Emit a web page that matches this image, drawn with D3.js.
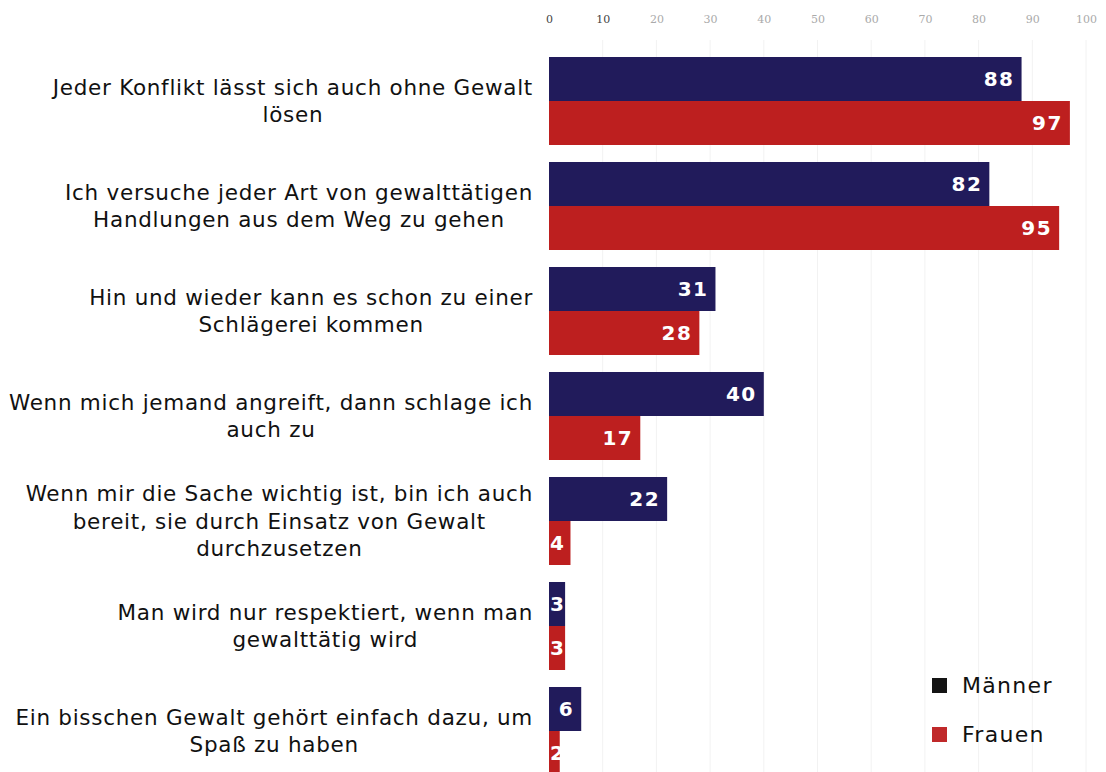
<!DOCTYPE html>
<html>
<head>
<meta charset="utf-8">
<script src="https://cdn.jsdelivr.net/npm/d3@7"></script>
<style>
  html, body { margin: 0; padding: 0; background: #fff; }
  svg { display: block; }
</style>
</head>
<body>
<svg id="chart" width="1106" height="772"></svg>
<script>
// Statements (each entry is the list of wrapped lines)
const categories = [
  ["Jeder Konflikt lässt sich auch ohne Gewalt", "lösen"],
  ["Ich versuche jeder Art von gewalttätigen", "Handlungen aus dem Weg zu gehen"],
  ["Hin und wieder kann es schon zu einer", "Schlägerei kommen"],
  ["Wenn mich jemand angreift, dann schlage ich", "auch zu"],
  ["Wenn mir die Sache wichtig ist, bin ich auch", "bereit, sie durch Einsatz von Gewalt", "durchzusetzen"],
  ["Man wird nur respektiert, wenn man", "gewalttätig wird"],
  ["Ein bisschen Gewalt gehört einfach dazu, um", "Spaß zu haben"]
];
const seriesNames = ["Männer", "Frauen"];
const maenner = [88, 82, 31, 40, 22, 3, 6];
const frauen  = [97, 95, 28, 17, 4, 3, 2];
const tickValues = [0, 10, 20, 30, 40, 50, 60, 70, 80, 90, 100];

const barColors = ["#211b5b", "#bd1f1f"];
const legendColors = ["#141414", "#c0292a"];

const svg = d3.select("#chart");

const x = d3.scaleLinear().domain([0, 100]).range([549, 1086]);

// 105px per statement, 88px of bars and a 17px gap
const step = 105, gap = 17;
const y = d3.scaleBand()
  .domain(d3.range(categories.length))
  .range([57, 57 + step * categories.length - gap])
  .paddingInner(gap / step)
  .paddingOuter(0);
const ySub = d3.scaleBand().domain([0, 1]).range([0, y.bandwidth()]);

// faint vertical gridlines
svg.append("g")
  .selectAll("line")
  .data(tickValues.slice(1))
  .join("line")
  .attr("x1", d => x(d)).attr("x2", d => x(d))
  .attr("y1", 40).attr("y2", 772)
  .attr("stroke", "#f2f2f2")
  .attr("stroke-width", 1);

// top axis
const axis = svg.append("g")
  .attr("transform", "translate(0,23)")
  .call(d3.axisTop(x).tickValues(tickValues).tickSize(0).tickPadding(0));
axis.select(".domain").remove();
axis.selectAll("text")
  .attr("font-family", "'DejaVu Serif', serif")
  .attr("font-size", 11)
  .attr("fill", (d, i) => i < 2 ? "#444" : "#aaa");

// bars
const rows = categories.map((c, i) => ({ i, values: [maenner[i], frauen[i]] }));
const groups = svg.append("g")
  .selectAll("g")
  .data(rows)
  .join("g")
  .attr("transform", d => `translate(0,${y(d.i)})`);

const cells = groups.selectAll("g.cell")
  .data(d => d.values.map((v, s) => ({ v, s })))
  .join("g")
  .attr("class", "cell");

cells.append("rect")
  .attr("x", x(0))
  .attr("y", d => ySub(d.s))
  .attr("width", d => x(d.v) - x(0))
  .attr("height", ySub.bandwidth())
  .attr("fill", d => barColors[d.s]);

cells.append("text")
  .text(d => d.v)
  .attr("y", d => ySub(d.s) + ySub.bandwidth() / 2)
  .attr("dy", "0.36em")
  .attr("text-anchor", "end")
  .attr("font-family", "'DejaVu Sans', sans-serif")
  .attr("font-weight", "bold")
  .attr("font-size", 20)
  .attr("letter-spacing", 1.5)
  .attr("fill", "#fff")
  .attr("x", function (d) {
    const w = this.getComputedTextLength();
    return Math.max(x(d.v) - 7, x(0) + 1 + w);
  });

// category labels: block right-aligned, lines centred within it
const labelRight = 533;
const lineH = 27.5;
categories.forEach((lines, i) => {
  const g = svg.append("g");
  const cy = y(i) + y.bandwidth() / 2;
  const texts = lines.map((ln, k) => g.append("text")
    .text(ln)
    .attr("font-family", "'DejaVu Sans', sans-serif")
    .attr("font-size", 21.5)
    .attr("letter-spacing", 0.72)
    .attr("fill", "#111")
    .attr("text-anchor", "middle")
    .attr("y", cy + (k - (lines.length - 1) / 2) * lineH)
    .attr("dy", "0.35em"));
  const maxW = d3.max(texts, t => t.node().getComputedTextLength());
  texts.forEach(t => t.attr("x", labelRight - maxW / 2));
});

// legend
const legend = svg.append("g")
  .selectAll("g")
  .data(seriesNames)
  .join("g")
  .attr("transform", (d, i) => `translate(932,${678 + i * 49})`);
legend.append("rect")
  .attr("width", 15).attr("height", 15)
  .attr("fill", (d, i) => legendColors[i]);
legend.append("text")
  .text(d => d)
  .attr("x", 30)
  .attr("y", 7.5)
  .attr("dy", "0.36em")
  .attr("font-family", "'DejaVu Sans', sans-serif")
  .attr("font-size", 22)
  .attr("letter-spacing", 1.3)
  .attr("fill", "#111");
</script>
</body>
</html>
